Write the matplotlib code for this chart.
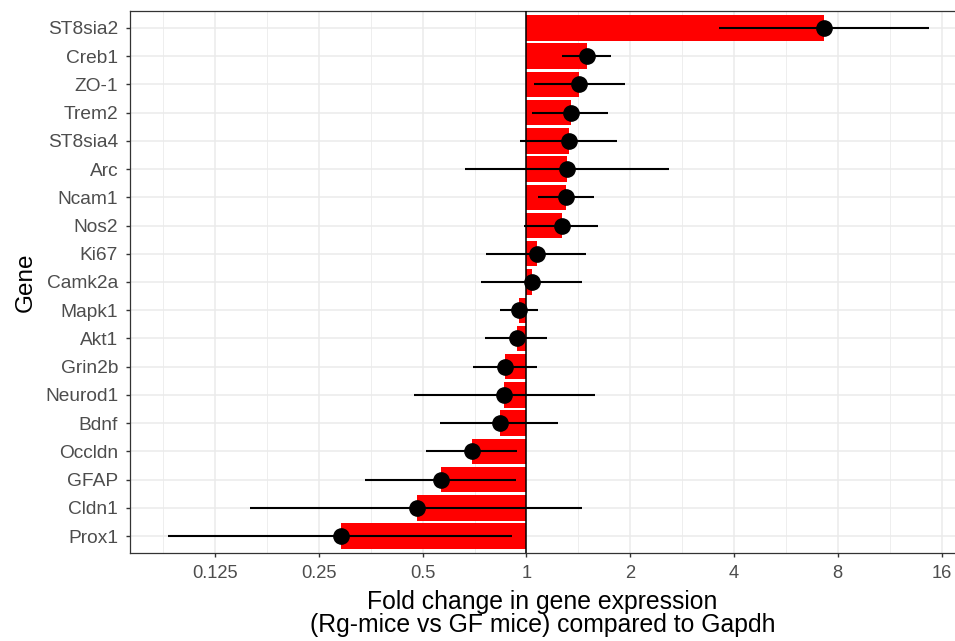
import numpy as np
import matplotlib.pyplot as plt
from matplotlib.ticker import NullFormatter

# genes listed top to bottom
genes = ["ST8sia2", "Creb1", "ZO-1", "Trem2", "ST8sia4", "Arc", "Ncam1", "Nos2",
         "Ki67", "Camk2a", "Mapk1", "Akt1", "Grin2b", "Neurod1", "Bdnf",
         "Occldn", "GFAP", "Cldn1", "Prox1"]
fold_change = [7.30, 1.495, 1.42, 1.344, 1.326, 1.314, 1.30, 1.265,
               1.07, 1.037, 0.953, 0.937, 0.868, 0.862, 0.838,
               0.696, 0.565, 0.482, 0.289]
ci_low = [3.62, 1.27, 1.049, 1.035, 0.957, 0.664, 1.078, 0.985,
          0.763, 0.739, 0.839, 0.759, 0.698, 0.471, 0.561,
          0.513, 0.341, 0.158, 0.0913]
ci_high = [14.7, 1.755, 1.93, 1.73, 1.826, 2.59, 1.57, 1.61,
           1.49, 1.452, 1.078, 1.144, 1.07, 1.577, 1.237,
           0.94, 0.934, 1.452, 0.906]
x_breaks = [0.125, 0.25, 0.5, 1, 2, 4, 8, 16]
x_labels = ["0.125", "0.25", "0.5", "1", "2", "4", "8", "16"]

plt.rcParams['font.family'] = ['Liberation Sans', 'DejaVu Sans']
plt.rcParams['savefig.bbox'] = 'standard'

fc = np.array(fold_change)
lo = np.array(ci_low)
hi = np.array(ci_high)
y = np.arange(len(genes))

fig = plt.figure(figsize=(9.55, 6.41), dpi=100)
ax = fig.add_axes([130 / 955, 88 / 641, 825 / 955, 542 / 641])

ax.barh(y, np.abs(fc - 1), left=np.minimum(fc, 1), height=0.9,
        color='#FF0000', zorder=2)
ax.axvline(1, color='black', linewidth=1.1, zorder=3)
ax.hlines(y, lo, hi, color='black', linewidth=1.5, zorder=4)
ax.plot(fc, y, 'o', color='black', markersize=11, zorder=5)

ax.set_xscale('log', base=2)
# panel runs past the right edge of the picture, as in the reference
ax.set_xlim(2 ** -3.82, 2 ** 4.13)
ax.set_ylim(len(genes) - 0.4, -0.6)

ax.set_xticks(x_breaks)
ax.set_xticklabels(x_labels)
ax.set_xticks([2 ** (k + 0.5) for k in range(-4, 4)], minor=True)
ax.xaxis.set_minor_formatter(NullFormatter())
ax.set_yticks(y)
ax.set_yticklabels(genes)

ax.grid(which='major', color='#EBEBEB', linewidth=1.1, zorder=0)
ax.grid(which='minor', axis='x', color='#EBEBEB', linewidth=0.6, zorder=0)
ax.set_axisbelow(True)

ax.tick_params(which='major', length=3, width=1, color='#333333',
               labelcolor='#4D4D4D')
ax.tick_params(axis='x', which='major', labelsize=13.2, pad=5.5)
ax.tick_params(axis='y', which='major', labelsize=13.8, pad=5.5)
ax.tick_params(which='minor', length=0)
for s in ax.spines.values():
    s.set_color('#333333')
    s.set_linewidth(0.9)
ax.spines['right'].set_visible(False)

ax.set_xlabel("Fold change in gene expression\n(Rg-mice vs GF mice) compared to Gapdh",
              fontsize=17.8, labelpad=6, linespacing=0.92)
ax.set_ylabel("Gene", fontsize=17.5, labelpad=6)

fig.savefig("out.png", dpi=100)
